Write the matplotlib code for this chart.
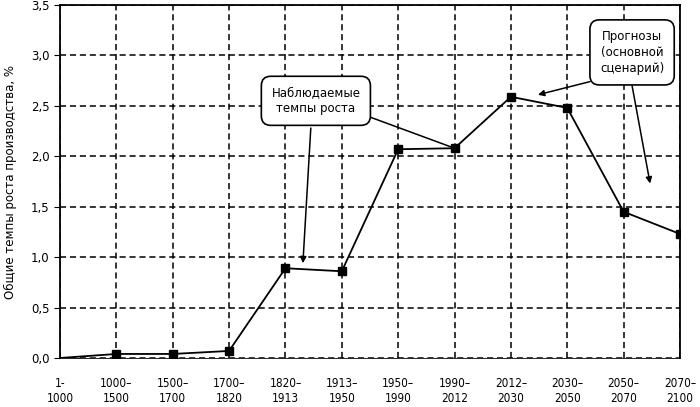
import numpy as np
import matplotlib.pyplot as plt

periods = ['1-\n1000', '1000–\n1500', '1500–\n1700', '1700–\n1820', '1820–\n1913',
           '1913–\n1950', '1950–\n1990', '1990–\n2012', '2012–\n2030', '2030–\n2050',
           '2050–\n2070', '2070–\n2100']
growth = [0.0, 0.04, 0.04, 0.07, 0.89, 0.86, 2.07, 2.08, 2.59, 2.48, 1.45, 1.23]
yticks = [0.0, 0.5, 1.0, 1.5, 2.0, 2.5, 3.0, 3.5]

plt.rcParams['font.family'] = ['DejaVu Sans']
fig = plt.figure(figsize=(7, 4.07), dpi=100)
ax = fig.add_axes([0.0857, 0.1204, 0.8857, 0.8673])

x = np.arange(len(periods))
ax.plot(x[1:], growth[1:], color='black', lw=1.3, marker='s', ms=6, zorder=3)
ax.plot(x[:2], growth[:2], color='black', lw=1.3, zorder=3)

ax.set_xlim(0, 11)
ax.set_ylim(0, 3.5)
ax.set_xticks(x)
ax.set_xticklabels(periods, fontsize=8.5, stretch='condensed')
for lbl in ax.get_xticklabels():
    lbl.set_x(lbl.get_position()[0])
ax.set_yticks(yticks)
ax.set_yticklabels([f'{v:.1f}'.replace('.', ',') for v in yticks], fontsize=8.5)
ax.tick_params(axis='x', length=0, pad=14)
ax.tick_params(axis='y', length=4, direction='out')
ax.grid(True, color='black', ls=(0, (4, 2.5)), lw=1.1)
for s in ax.spines.values():
    s.set_linewidth(1.3)
ax.spines['bottom'].set_linewidth(0.6)
ax.set_ylabel('Общие темпы роста производства, %', fontsize=8.5, labelpad=10)

bbox = dict(boxstyle='round,pad=0.85,rounding_size=0.8', fc='white', ec='black', lw=1.2)
ax.text(4.54, 2.55, 'Наблюдаемые\nтемпы роста', ha='center', va='center',
        fontsize=8.5, bbox=bbox, zorder=5, linespacing=1.3)
ax.text(10.15, 3.03, 'Прогнозы\n(основной\nсценарий)', ha='center', va='center',
        fontsize=8.5, bbox=bbox, zorder=5, linespacing=1.3)

arr = dict(arrowstyle='-|>', color='black', lw=1.1, mutation_scale=9, shrinkA=0, shrinkB=0)
ax.annotate('', xy=(4.31, 0.94), xytext=(4.45, 2.28), arrowprops=arr, zorder=4)
ax.annotate('', xy=(7.0, 2.08), xytext=(5.3, 2.43),
            arrowprops=dict(arrowstyle='-', color='black', lw=1.1, shrinkA=0, shrinkB=0),
            zorder=4)
ax.annotate('', xy=(8.48, 2.61), xytext=(9.4, 2.74), arrowprops=arr, zorder=4)
ax.annotate('', xy=(10.47, 1.73), xytext=(10.15, 2.7), arrowprops=arr, zorder=4)

plt.savefig('out.png', dpi=100)
